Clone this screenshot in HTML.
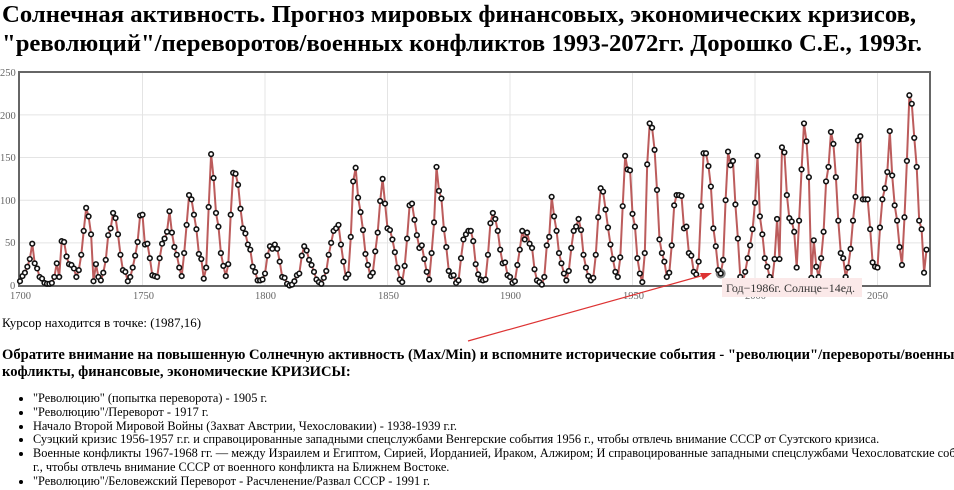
<!DOCTYPE html>
<html><head><meta charset="utf-8">
<style>
html,body{margin:0;padding:0;background:#fff;overflow:hidden;width:954px;height:490px}
#wrap{width:954px;height:490px;overflow:hidden;font-family:"Liberation Serif","DejaVu Serif",serif;color:#000;position:relative}
h1{font-size:24.7px;font-weight:bold;margin:0;position:absolute;left:2px;top:0px;line-height:29px;white-space:nowrap}
.cur{position:absolute;left:2px;top:315px;font-size:13px}
h3{position:absolute;left:2px;top:347px;margin:0;font-size:14.6px;line-height:17px;width:975px}
ul{position:absolute;left:0;top:392px;margin:0;padding-left:33px;font-size:12.35px;line-height:13.8px;width:1040px}
svg{position:absolute;left:0;top:0}
</style></head><body><div id="wrap">
<h1>Солнечная активность. Прогноз мировых финансовых, экономических кризисов,<br>"революций"/переворотов/военных конфликтов 1993-2072гг. Дорошко С.Е., 1993г.</h1>
<svg id="s" width="954" height="490" xmlns="http://www.w3.org/2000/svg" font-family="Liberation Serif, serif">
<g font-size="10.5" fill="#666">
<text x="0" y="76">250</text><text x="0" y="119">200</text><text x="0" y="161">150</text><text x="0" y="204">100</text><text x="5" y="246">50</text><text x="10" y="289">0</text>
<text x="10" y="299">1700</text><text x="133" y="299">1750</text><text x="255" y="299">1800</text><text x="378" y="299">1850</text><text x="500" y="299">1900</text><text x="623" y="299">1950</text><text x="745" y="299">2000</text><text x="867" y="299">2050</text>
</g>
</svg>
<div class="cur">Курсор находится в точке: (1987,16)</div>
<h3>Обратите внимание на повышенную Солнечную активность (Max/Min) и вспомните исторические события - "революции"/перевороты/военные кофликты, финансовые, экономические КРИЗИСЫ:</h3>
<ul>
<li>"Революцию" (попытка переворота) - 1905 г.</li>
<li>"Революцию"/Переворот - 1917 г.</li>
<li>Начало Второй Мировой Войны (Захват Австрии, Чехословакии) - 1938-1939 г.г.</li>
<li>Суэцкий кризис 1956-1957 г.г. и справоцированные западными спецслужбами Венгерские события 1956 г., чтобы отвлечь внимание СССР от Суэтского кризиса.</li>
<li>Военные конфликты 1967-1968 гг. — между Израилем и Египтом, Сирией, Иорданией, Ираком, Алжиром; И справоцированные западными спецслужбами Чехословатские события 1968<br>г., чтобы отвлечь внимание СССР от военного конфликта на Ближнем Востоке.</li>
<li>"Революцию"/Беловежский Переворот - Расчленение/Развал СССР - 1991 г.</li>
</ul>
</div>
<script>
var d=[5,11,15,22,31,49,26,20,10,8,3,2,2,3,10,26,10,52,51,34,25,24,20,10,18,36,64,91,81,60,5,25,10,6,15,30,59,67,85,79,60,36,18,16,5,10,21,35,51,82,83,48,49,32,12,11,10,32,49,55,63,87,62,45,36,21,11,38,71,106,101,83,66,37,31,8,21,92,154,126,85,69,38,23,11,25,83,132,131,118,90,67,61,48,42,22,16,6,6,7,14,35,46,43,48,43,28,10,9,2,0,1,5,12,14,35,46,41,30,24,16,7,4,2,9,17,36,50,64,67,71,48,28,9,13,57,122,138,103,86,65,37,24,11,15,40,62,99,125,96,67,65,54,39,21,7,4,23,55,94,96,77,59,44,47,31,16,7,38,74,139,111,102,66,45,17,11,12,3,6,32,54,60,64,64,52,25,13,7,6,7,36,73,85,78,64,42,26,27,12,10,3,5,24,42,64,54,62,49,44,19,6,4,1,10,47,57,104,81,64,38,26,14,6,17,44,64,69,78,65,36,21,11,6,9,36,80,114,110,89,68,48,31,16,10,33,93,152,136,135,84,69,32,14,4,38,142,190,185,159,112,54,38,28,10,15,47,94,106,106,105,67,69,38,35,16,13,28,93,155,155,140,116,67,46,18,14,30,100,157,141,146,95,55,10,3,16,32,47,66,97,152,81,60,32,22,10,6,31,78,31,162,156,106,79,75,63,21,76,136,190,169,127,9,53,22,10,32,63,122,139,180,166,127,76,38,32,10,21,43,76,104,170,175,101,101,101,66,27,22,21,68,101,114,133,181,129,94,76,45,24,80,146,223,213,173,139,76,66,15,42];
var X=y=>20+(y-1700)*2.45, Y=v=>285.5-v*0.853;
var ns="http://www.w3.org/2000/svg",s=document.getElementById('s');
function el(t,a){var e=document.createElementNS(ns,t);for(var k in a)e.setAttribute(k,a[k]);s.appendChild(e);return e;}
[0,50,100,150,200,250].forEach(v=>el('line',{x1:20,x2:930,y1:Y(v),y2:Y(v),stroke:'#e4e4e4','stroke-width':1}));
[1750,1800,1850,1900,1950,2000,2050].forEach(y=>el('line',{x1:X(y),x2:X(y),y1:73,y2:286,stroke:'#e4e4e4','stroke-width':1}));
el('rect',{x:19,y:72,width:911,height:214,fill:'none',stroke:'#666','stroke-width':2});
var p=d.map((v,i)=>X(1700+i).toFixed(1)+','+Y(v).toFixed(1)).join(' ');
el('polyline',{points:p,fill:'none',stroke:'#b54a4a','stroke-width':2,'stroke-opacity':0.9});
el('circle',{cx:X(1986),cy:Y(14),r:5,fill:'#888'});
d.forEach((v,i)=>el('circle',{cx:X(1700+i),cy:Y(v),r:2.3,fill:'#fff',stroke:'#111','stroke-width':1.6}));
el('rect',{x:722,y:278,width:140,height:19,fill:'#fbe9e9'});
var t=el('text',{x:726,y:292,'font-size':12,fill:'#333'});t.textContent='Год−1986г. Солнце−14ед.';
el('line',{x1:468,y1:341,x2:708,y2:274,stroke:'#d33','stroke-width':1.2});
el('polygon',{points:'712,273 700,273 703,280',fill:'#d33'});
</script>
</body></html>
